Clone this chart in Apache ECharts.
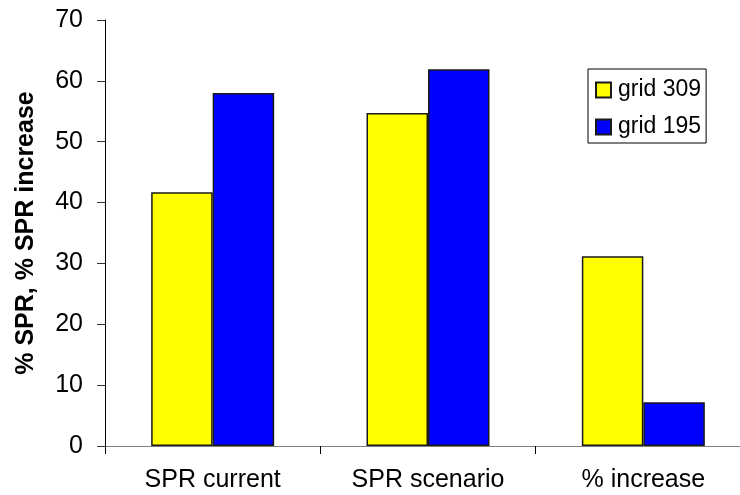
<!DOCTYPE html>
<html>
<head>
<meta charset="utf-8">
<script src="https://cdn.jsdelivr.net/npm/echarts@6/dist/echarts.min.js"></script>
<style>
  html, body { margin: 0; padding: 0; background: #fff; overflow: hidden; }
  /* the drawing surface is a little wider than the window so the plot area runs past the right edge */
  #chart { width: 751px; height: 495px; }
</style>
</head>
<body>
<div id="chart"></div>
<script>
// Categories and values for the two grids
var categories = ['SPR current', 'SPR scenario', '% increase'];
var grid309 = [41.7, 54.7, 31.2];
var grid195 = [58.0, 61.9, 7.2];
var seriesNames = ['grid 309', 'grid 195'];
var yTitle = '% SPR, % SPR increase';

var FONT = '"Liberation Sans", Arial, sans-serif';

var chart = echarts.init(document.getElementById('chart'), null, { renderer: 'canvas' });

chart.setOption({
  animation: false,
  backgroundColor: '#ffffff',
  textStyle: { fontFamily: FONT, color: '#000' },
  grid: { left: 105, top: 20, right: 0, bottom: 49, containLabel: false },
  legend: {
    orient: 'vertical',
    left: 588,
    top: 69,
    padding: [9, 5, 4, 7],
    itemGap: 13,
    itemWidth: 15,
    itemHeight: 15,
    icon: 'rect',
    borderColor: '#000',
    borderWidth: 1,
    backgroundColor: '#fff',
    textStyle: { fontFamily: FONT, fontSize: 23, color: '#000', lineHeight: 24, padding: [0, 0, 0, 2] },
    data: seriesNames
  },
  xAxis: {
    type: 'category',
    data: categories,
    axisLine: { lineStyle: { color: '#808080', width: 1 } },
    axisTick: { show: true, length: 8, lineStyle: { color: '#000' } },
    axisLabel: { fontFamily: FONT, fontSize: 25, color: '#000', margin: 22 },
    splitLine: { show: false }
  },
  yAxis: {
    type: 'value',
    min: 0,
    max: 70,
    interval: 10,
    name: yTitle,
    nameLocation: 'middle',
    nameRotate: 90,
    nameGap: 66,
    nameTextStyle: { fontFamily: FONT, fontSize: 25, fontWeight: 'bold', color: '#000' },
    axisLine: { show: true, lineStyle: { color: '#000', width: 1 } },
    axisTick: { show: true, length: 8, lineStyle: { color: '#333' } },
    axisLabel: { fontFamily: FONT, fontSize: 25, color: '#000', margin: 22 },
    splitLine: { show: false }
  },
  series: [
    {
      name: seriesNames[0],
      type: 'bar',
      data: grid309,
      barWidth: 61.5,
      barGap: '0%',
      itemStyle: { color: '#FFFF00', borderColor: '#1a1a1a', borderWidth: 1.5 }
    },
    {
      name: seriesNames[1],
      type: 'bar',
      data: grid195,
      barWidth: 61.5,
      barGap: '0%',
      itemStyle: { color: '#0000FF', borderColor: '#1a1a1a', borderWidth: 1.5 }
    }
  ]
});
</script>
</body>
</html>
